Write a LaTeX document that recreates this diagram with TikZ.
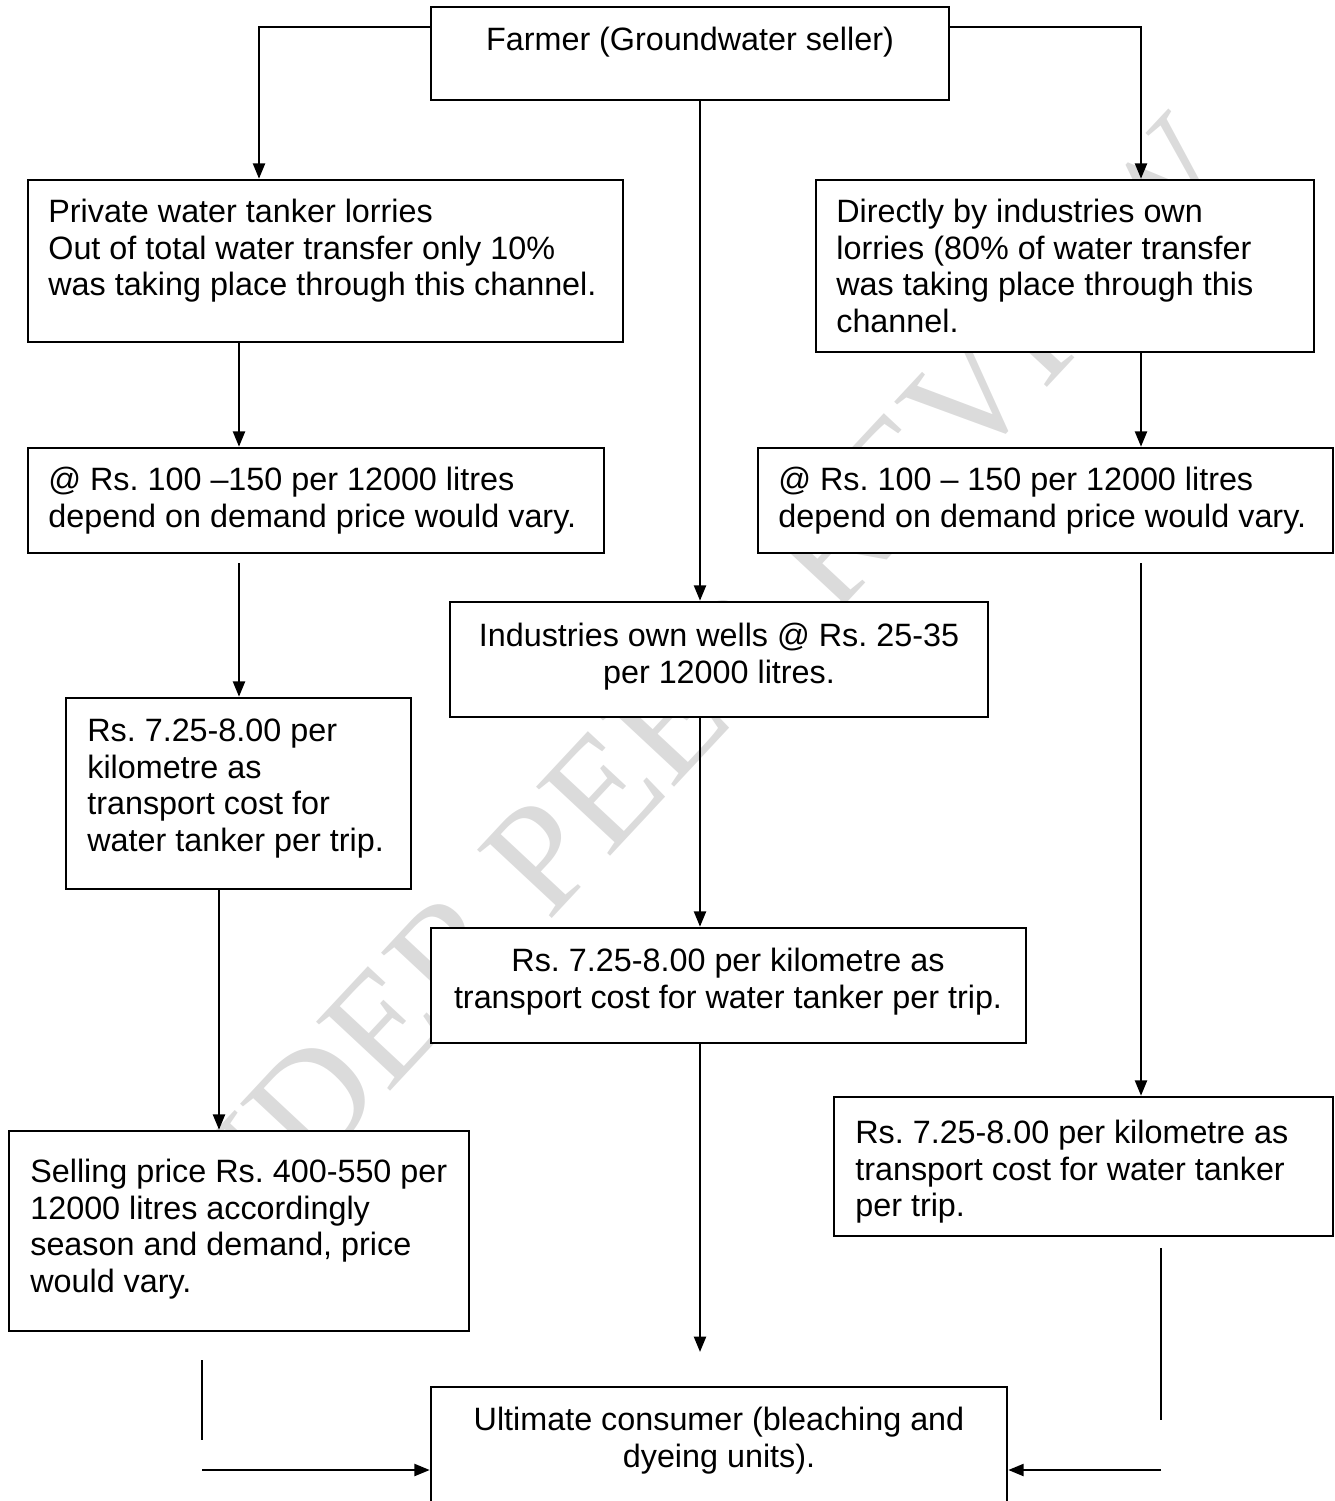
\documentclass[tikz,border=0pt]{standalone}
\usepackage{fontspec}
\setmainfont{Liberation Sans}
\newfontfamily\wmfont{Liberation Serif}
\usetikzlibrary{arrows.meta,fit}
\frenchspacing
\tikzset{
    box/.style={draw, fill=white, line width=1.4pt, inner sep=0pt},
    txt/.style={inner sep=0pt, anchor=north west, align=left, font=\fontsize{18.4}{21}\selectfont},
    ctxt/.style={txt, anchor=north, align=center},
    link/.style={line width=1.4pt, -{Triangle[length=0.31cm,width=0.24cm]}},
    stub/.style={line width=1.4pt},
    wm/.style={font=\wmfont\fontsize{88}{88}\selectfont, text=black!14, rotate=47, inner sep=0pt}
}
\begin{document}
\begin{tikzpicture}[x=0.02cm, y=-0.02cm]
    \clip (0,0) rectangle (1335,1501);
    \node[wm] (mark) at (665,725) {UNDER PEER REVIEW};

    \node[box, fit={(431,7) (949,100)}] (farmer) {};
    \node[box, fit={(28,180) (623,342)}] (private) {};
    \node[box, fit={(816,180) (1314,352)}] (direct) {};
    \node[box, fit={(28,448) (604,553)}] (lprice) {};
    \node[box, fit={(758,448) (1333,553)}] (rprice) {};
    \node[box, fit={(450,602) (988,717)}] (wells) {};
    \node[box, fit={(66,698) (411,889)}] (ltrans) {};
    \node[box, fit={(431,928) (1026,1043)}] (mtrans) {};
    \node[box, fit={(9,1131) (469,1331)}] (selling) {};
    \node[box, fit={(834,1097) (1333,1236)}] (rtrans) {};
    \node[box, fit={(431,1387) (1007,1530)}] (consumer) {};

    \node[ctxt] (farmer-t) at (690,24) {\strut Farmer (Groundwater seller)};
    \node[txt] (private-t) at (48,196) {\strut Private water tanker lorries\\Out of total water transfer only 10\%\\was taking place through this channel.};
    \node[txt] (direct-t) at (836,196) {\strut Directly by industries own\\lorries (80\% of water transfer\\was taking place through this\\channel.};
    \node[txt] (lprice-t) at (48,464) {\strut @ Rs. 100 –150 per 12000 litres\\depend on demand price would vary.};
    \node[txt] (rprice-t) at (778,464) {\strut @ Rs. 100 – 150 per 12000 litres\\depend on demand price would vary.};
    \node[ctxt] (wells-t) at (719,620) {\strut Industries own wells @ Rs. 25-35\\per 12000 litres.};
    \node[txt] (ltrans-t) at (87,715) {\strut Rs. 7.25-8.00 per\\kilometre as\\transport cost for\\water tanker per trip.};
    \node[ctxt] (mtrans-t) at (728,945) {\strut Rs. 7.25-8.00 per kilometre as\\transport cost for water tanker per trip.};
    \node[txt] (selling-t) at (30,1156) {\strut Selling price Rs. 400-550 per\\12000 litres accordingly\\season and demand, price\\would vary.};
    \node[txt] (rtrans-t) at (855,1117) {\strut Rs. 7.25-8.00 per kilometre as\\transport cost for water tanker\\per trip.};
    \node[ctxt] (consumer-t) at (719,1404) {\strut Ultimate consumer (bleaching and\\dyeing units).};

    \coordinate (tl) at (259,27);
    \coordinate (tr) at (1141,27);
    \coordinate (cx) at (700,0);
    \coordinate (lx) at (239,0);
    \coordinate (lx2) at (219,0);
    \coordinate (l2) at (239,563);
    \coordinate (r2) at (1141,563);
    \coordinate (mend) at (700,1352);
    \coordinate (lv) at (202,1360);
    \coordinate (lb) at (202,1440);
    \coordinate (lh) at (202,1470);
    \coordinate (rv) at (1161,1248);
    \coordinate (rb) at (1161,1420);
    \coordinate (rh) at (1161,1470);

    \draw[link] (farmer.west |- tl) -- (tl) -- (private.north -| tl);
    \draw[link] (farmer.east |- tr) -- (tr) -- (direct.north -| tr);
    \draw[link] (farmer.south -| cx) -- (wells.north -| cx);
    \draw[link] (wells.south -| cx) -- (mtrans.north -| cx);
    \draw[link] (mtrans.south -| cx) -- (mend);
    \draw[link] (private.south -| lx) -- (lprice.north -| lx);
    \draw[link] (l2) -- (ltrans.north -| l2);
    \draw[link] (ltrans.south -| lx2) -- (selling.north -| lx2);
    \draw[link] (direct.south -| tr) -- (rprice.north -| tr);
    \draw[link] (r2) -- (rtrans.north -| r2);
    \draw[stub] (lv) -- (lb);
    \draw[link] (lh) -- (consumer.west |- lh);
    \draw[stub] (rv) -- (rb);
    \draw[link] (rh) -- (consumer.east |- rh);
\end{tikzpicture}
\end{document}
